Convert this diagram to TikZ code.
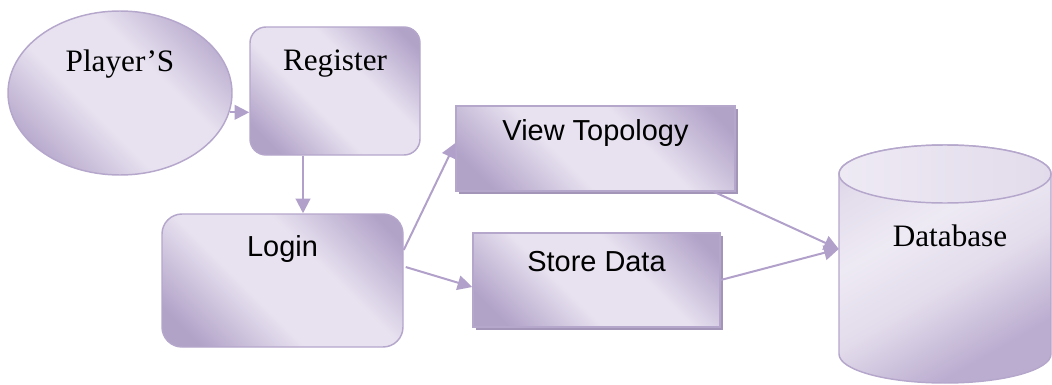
\documentclass[tikz,border=0pt]{standalone}
\usepackage{fontspec}
\setmainfont{Liberation Serif}
\newfontfamily\arialf{Liberation Sans}
\usetikzlibrary{arrows.meta,shapes.geometric,shadows}
\definecolor{plight}{HTML}{E8E2F0}
\definecolor{pdark}{HTML}{B1A2C8}
\definecolor{pborder}{HTML}{B5A7CC}
\definecolor{parrow}{HTML}{B1A1CA}
\definecolor{pshadow}{HTML}{A395B8}
\definecolor{dlight}{HTML}{EEEAF4}
\definecolor{dmid}{HTML}{E2DBEB}
\definecolor{ddark}{HTML}{BBADD0}
\pgfdeclareverticalshading{lav}{100bp}{color(0bp)=(pdark); color(22bp)=(pdark); color(42bp)=(plight); color(60bp)=(plight); color(80bp)=(pdark); color(100bp)=(pdark)}
\pgfdeclareverticalshading{dbsh}{100bp}{color(0bp)=(ddark); color(28bp)=(ddark); color(45bp)=(dmid); color(60bp)=(dlight); color(75bp)=(dmid); color(100bp)=(ddark)}
\tikzset{
  serift/.style={font=\fontsize{23.4}{27}\selectfont},
  sanst/.style={font=\arialf\fontsize{21.7}{26}\selectfont},
  shapebox/.style={draw=pborder, line width=1.1pt, shading=lav, shading angle=-45, inner sep=0pt},
  roundbox/.style={shapebox, rectangle},
  shadowbox/.style={shapebox, rectangle, drop shadow={shadow xshift=2.4pt, shadow yshift=-2.4pt, fill=pshadow, opacity=1}},
  conn/.style={draw=parrow, line width=1.5pt, -{Triangle[length=11pt,width=11pt]}},
}
\begin{document}
\begin{tikzpicture}[x=0.75pt,y=-0.75pt]
\useasboundingbox (0,0) rectangle (1052,385);
% Database cylinder body
\path[draw=pborder, line width=1.1pt, shading=dbsh, shading angle=30]
  (839,174) -- (839,354) arc[start angle=180, end angle=360, x radius=79.5pt, y radius=21.75pt]
  -- (1051,174) arc[start angle=0, end angle=180, x radius=79.5pt, y radius=21.75pt] -- cycle;
\path[draw=pborder, line width=1.1pt, left color=dlight, right color=dmid]
  (945,174) ellipse[x radius=79.5pt, y radius=21.75pt];
% Player's
\node[shapebox, ellipse, minimum width=168pt, minimum height=123pt,
      label={[serift, yshift=21.75pt]center:Player’S}] (player) at (120,93) {};
% Register
\node[roundbox, rounded corners=12pt, minimum width=127.5pt, minimum height=96pt,
      label={[serift, yshift=20.25pt]center:Register}] (register) at (335,91) {};
% Login
\node[roundbox, rounded corners=15pt, minimum width=180.75pt, minimum height=99.75pt,
      label={[sanst, yshift=23.25pt]center:Login}] (login) at (282.5,280.5) {};
% View Topology
\node[shadowbox, minimum width=209.25pt, minimum height=63.75pt,
      label={[sanst, yshift=11.25pt]center:View Topology}] (view) at (595.5,148.5) {};
% Store Data
\node[shadowbox, minimum width=185.25pt, minimum height=70.5pt,
      label={[sanst, yshift=13.5pt]center:Store Data}] (store) at (596.5,280) {};
% Database (label node over the cylinder)
\node[minimum width=159pt, minimum height=178.5pt, inner sep=0pt,
      label={[serift, xshift=3.75pt, yshift=21pt]center:Database}] (db) at (945,264) {};
% connectors
\draw[conn] (player.-10) -- (register.west |- player.-10);
\draw[conn] ([xshift=-24pt]register.south) -- ([xshift=-24pt]register.south |- login.north);
\draw[conn] ([yshift=22.9pt]login.east) -- ([yshift=4.1pt]view.west);
\draw[conn] ([xshift=1.5pt,yshift=10.1pt]login.east) -- ([yshift=-5.25pt]store.west);
\draw[conn] ([xshift=-16.5pt]view.south east) -- ([yshift=11.25pt]db.west);
\draw[conn] (store.east) -- ([yshift=11.25pt]db.west);
\end{tikzpicture}
\end{document}
